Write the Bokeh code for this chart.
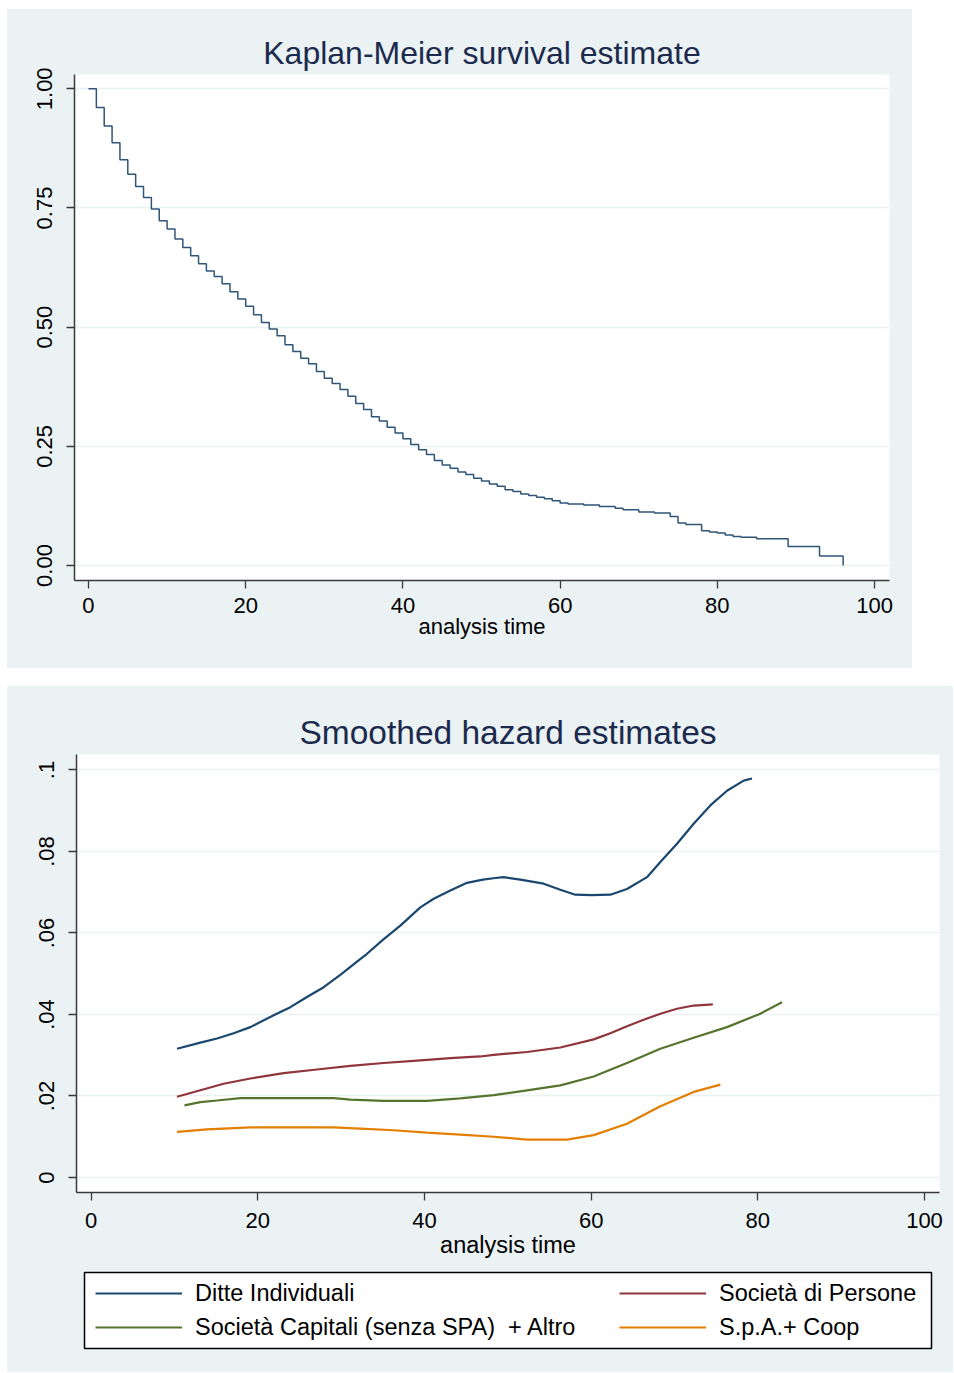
from bokeh.plotting import figure
from bokeh.layouts import column, row
from bokeh.models import Range1d, FixedTicker, Legend, LegendItem, CustomJSTickFormatter, Spacer
from bokeh.embed import file_html
from bokeh.resources import INLINE

# ---------------- data ----------------
km_time = list(range(0, 62)) + [63, 65, 67, 68, 70, 72, 74, 75, 76, 78, 79, 80,
                                81, 82, 83, 85, 89, 93, 96]
km_surv = [1.000, 0.961, 0.922, 0.887, 0.851, 0.821, 0.795, 0.772, 0.748, 0.723,
           0.706, 0.685, 0.667, 0.650, 0.633, 0.618, 0.606, 0.591, 0.574, 0.559,
           0.544, 0.526, 0.510, 0.496, 0.482, 0.463, 0.449, 0.435, 0.423, 0.407,
           0.393, 0.382, 0.369, 0.355, 0.340, 0.327, 0.312, 0.303, 0.290, 0.278,
           0.266, 0.254, 0.243, 0.233, 0.220, 0.211, 0.204, 0.196, 0.191, 0.183,
           0.177, 0.171, 0.166, 0.159, 0.155, 0.150, 0.147, 0.143, 0.140, 0.136,
           0.131, 0.129, 0.127, 0.124, 0.120, 0.117, 0.112, 0.110, 0.103, 0.089,
           0.086, 0.073, 0.070, 0.068, 0.064, 0.061, 0.059, 0.056, 0.040, 0.020,
           0.000]

ditte_t = [10.3, 13.1, 15.1, 17.1, 19.1, 21.9, 23.9, 25.9, 27.9, 29.9, 31.9, 33.1,
           35.0, 37.1, 39.5, 41.1, 43.1, 45.1, 47.0, 48.5, 49.5, 51.5, 54.3, 56.3,
           58.1, 60.0, 62.3, 64.3, 66.7, 68.3, 70.3, 72.3, 74.3, 76.3, 78.3, 79.3]
ditte_h = [0.0316, 0.0331, 0.0341, 0.0354, 0.0369, 0.0398, 0.0418, 0.0443, 0.0467,
           0.0497, 0.0530, 0.0549, 0.0583, 0.0618, 0.0663, 0.0684, 0.0704, 0.0723,
           0.0731, 0.0735, 0.0737, 0.0731, 0.0721, 0.0706, 0.0694, 0.0693, 0.0694,
           0.0708, 0.0737, 0.0774, 0.0819, 0.0868, 0.0913, 0.0949, 0.0974, 0.0979]

persone_t = [10.3, 13.1, 15.9, 19.1, 23.1, 27.1, 31.1, 35.1, 39.1, 43.1, 46.7, 48.3,
             52.3, 56.3, 60.3, 62.3, 64.3, 66.3, 68.3, 70.3, 72.3, 74.6]
persone_h = [0.0198, 0.0214, 0.0230, 0.0243, 0.0256, 0.0265, 0.0274, 0.0281, 0.0287,
             0.0293, 0.0297, 0.0301, 0.0308, 0.0319, 0.0339, 0.0354, 0.0371, 0.0387,
             0.0402, 0.0414, 0.0422, 0.0425]

capitali_t = [11.2, 13.1, 15.1, 17.9, 29.1, 31.1, 35.1, 40.3, 44.3, 48.3, 52.3, 56.3,
              60.3, 64.3, 68.3, 72.3, 76.3, 80.3, 82.9]
capitali_h = [0.0177, 0.0185, 0.0189, 0.0195, 0.0195, 0.0191, 0.0188, 0.0188, 0.0194,
              0.0202, 0.0214, 0.0226, 0.0248, 0.0281, 0.0316, 0.0343, 0.0369, 0.0402,
              0.0430]

spa_t = [10.3, 13.9, 19.1, 29.1, 32.3, 36.3, 40.3, 44.3, 48.3, 52.3, 57.1, 60.3,
         64.3, 68.3, 72.3, 75.5]
spa_h = [0.0112, 0.0118, 0.0123, 0.0123, 0.0120, 0.0116, 0.0110, 0.0105, 0.0100,
         0.0093, 0.0093, 0.0104, 0.0132, 0.0175, 0.0210, 0.0228]

x_ticks = [0, 20, 40, 60, 80, 100]
km_yticks = [0, 0.25, 0.5, 0.75, 1.0]
hz_yticks = [0, 0.02, 0.04, 0.06, 0.08, 0.1]
series_names = ["Ditte Individuali", "Società di Persone",
                "Società Capitali (senza SPA)  + Altro", "S.p.A.+ Coop"]
series_colors = ["#1A476F", "#90353B", "#55752F", "#E37E00"]

FONT = "Liberation Sans"
BG = "#EAF2F3"
TITLE_COLOR = "#1C2A4D"
AXIS_COLOR = "#3A3A3A"


def style_axes(p, yticks, yfmt_code, tick_px, label_px, xstand, lstand):
    p.xaxis.ticker = FixedTicker(ticks=x_ticks)
    p.yaxis.ticker = FixedTicker(ticks=yticks)
    p.yaxis.formatter = CustomJSTickFormatter(code=yfmt_code)
    p.yaxis.major_label_orientation = "vertical"
    for ax in (p.xaxis[0], p.yaxis[0]):
        ax.axis_line_color = AXIS_COLOR
        ax.axis_line_width = 1.5
        ax.major_tick_line_color = AXIS_COLOR
        ax.major_tick_line_width = 1.3
        ax.major_tick_in = 0
        ax.major_tick_out = 8
        ax.minor_tick_line_color = None
        ax.major_label_text_font = FONT
        ax.major_label_text_font_size = tick_px
        ax.major_label_text_color = "black"
        ax.axis_label_text_font = FONT
        ax.axis_label_text_font_size = label_px
        ax.axis_label_text_font_style = "normal"
        ax.axis_label_text_color = "black"
    p.xaxis.major_label_standoff = xstand
    p.yaxis.major_label_standoff = 14
    p.xaxis.axis_label = "analysis time"
    p.xaxis.axis_label_standoff = lstand
    p.xgrid.grid_line_color = None
    p.ygrid.ticker = FixedTicker(ticks=yticks)
    p.ygrid.grid_line_color = BG
    p.ygrid.grid_line_width = 1.5


def style_title(p, text, size):
    p.title.text = text
    p.title.align = "center"
    p.title.text_font = FONT
    p.title.text_font_size = size
    p.title.text_font_style = "normal"
    p.title.text_color = TITLE_COLOR
    p.title.standoff = 7


# ---------------- top: Kaplan-Meier ----------------
p1 = figure(width=905, height=659, output_backend="svg", toolbar_location=None,
            x_range=Range1d(-1.78, 101.9), y_range=Range1d(-0.0315, 1.030),
            min_border_left=67, min_border_right=23, min_border_top=65,
            min_border_bottom=88, border_fill_color=BG,
            background_fill_color="white", outline_line_color=None,
            styles={"background-color": BG})
style_title(p1, "Kaplan-Meier survival estimate", "32px")
style_axes(p1, km_yticks, "return tick.toFixed(2);", "22px", "22px", 9, -2)
p1.step(km_time, km_surv, mode="after", line_color="#2F5579", line_width=1.5)

# ---------------- bottom: smoothed hazard ----------------
p2 = figure(width=946, height=582, output_backend="svg", toolbar_location=None,
            x_range=Range1d(-1.76, 101.8), y_range=Range1d(-0.00368, 0.1038),
            min_border_left=69, min_border_right=14, min_border_top=68,
            min_border_bottom=76, border_fill_color=BG,
            background_fill_color="white", outline_line_color=None,
            styles={"background-color": BG})
style_title(p2, "Smoothed hazard estimates", "33.5px")
style_axes(p2, hz_yticks,
           "if (tick == 0) return '0'; var s = tick.toFixed(2).replace(/0+$/, ''); return s.replace(/^0/, '');",
           "22px", "23.5px", 12, 1)

for xs, ys, c in zip([ditte_t, persone_t, capitali_t, spa_t],
                     [ditte_h, persone_h, capitali_h, spa_h], series_colors):
    p2.line(xs, ys, line_color=c, line_width=2.2)

# ---------------- legend strip (frame = legend box) ----------------
p3 = figure(width=946, height=104, output_backend="svg", toolbar_location=None,
            x_range=Range1d(0, 1), y_range=Range1d(0, 1),
            x_axis_type=None, y_axis_type=None,
            min_border_left=77, min_border_right=22, min_border_top=4,
            min_border_bottom=24, border_fill_color=BG,
            background_fill_color="white", outline_line_color="black",
            outline_line_width=1.5, styles={"background-color": BG})
p3.grid.visible = False
nan = float("nan")
keys = [p3.line([nan], [nan], line_color=c, line_width=2.2) for c in series_colors]


def make_legend(idx, loc):
    return Legend(items=[LegendItem(label=series_names[i], renderers=[keys[i]]) for i in idx],
                  orientation="vertical", location=loc, spacing=6, padding=0, margin=0,
                  glyph_width=87, glyph_height=28, label_height=28, label_standoff=13,
                  label_text_font=FONT, label_text_font_size="23.5px",
                  label_text_color="black",
                  border_line_color=None, background_fill_alpha=0.0)


p3.add_layout(make_legend([0, 2], (11, 7)), "center")
p3.add_layout(make_legend([1, 3], (535, 7)), "center")

page = column(Spacer(height=9),
              row(Spacer(width=7), p1),
              Spacer(height=18),
              row(Spacer(width=7), p2),
              row(Spacer(width=7), p3))
open("out.html", "w").write(file_html(page, INLINE))
